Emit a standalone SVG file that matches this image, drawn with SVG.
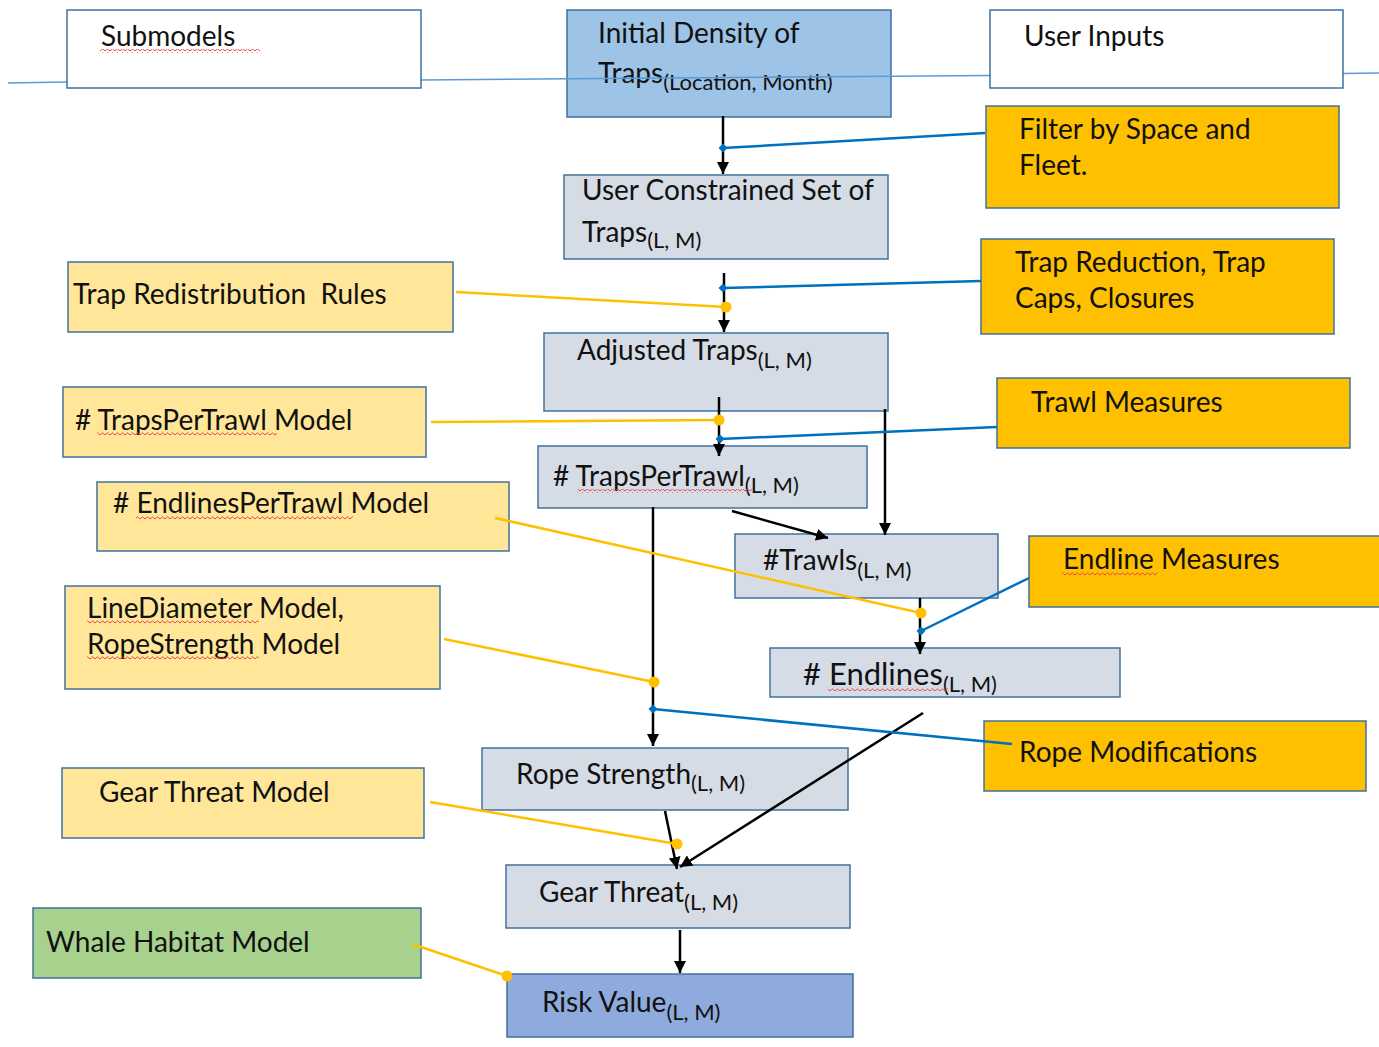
<svg xmlns="http://www.w3.org/2000/svg" width="1379" height="1047" viewBox="0 0 1379 1047">
<style>
.box{stroke:#41719C;stroke-width:1.5}
.white{fill:#FFFFFF}
.blue{fill:#9DC3E6}
.gray{fill:#D6DCE5}
.orange{fill:#FFC000}
.lyel{fill:#FFE699}
.green{fill:#A9D18E}
.risk{fill:#8FAADC}
text{font-family:Lato,"Noto Sans","Liberation Sans",sans-serif;font-size:28px;fill:#111111}
.sub{font-size:22px}
.big{font-size:31px}
.sq{fill:url(#squig)}
.arr{stroke:#000;stroke-width:2.5;fill:none;marker-end:url(#ah)}
.bl{stroke:#0070C0;stroke-width:2.5;fill:none}
.yl{stroke:#FFC000;stroke-width:2.5;fill:none}
.bdot{fill:#0070C0}
.ydot{fill:#FFC000}
.div{stroke:#5B9BD5;stroke-width:1.5;fill:none}
</style>
<defs>
<marker id="ah" markerUnits="userSpaceOnUse" markerWidth="12" markerHeight="12" viewBox="0 0 10 10" refX="10" refY="5" orient="auto">
<path d="M0,0 L10,5 L0,10 z" fill="#000"/>
</marker>
<pattern id="squig" patternUnits="userSpaceOnUse" x="0" y="0" width="5" height="4">
<path d="M0,3 L2.5,0.8 L5,3" stroke="#E84A4A" stroke-width="1" fill="none"/>
</pattern>
</defs>
<rect width="1379" height="1047" fill="#FFFFFF"/>

<g id="node-initial-density">
<rect class="box blue" x="567" y="10" width="324" height="107"/>
<text x="598" y="43">Initial Density of</text>
<text x="598" y="83">Traps<tspan class="sub" dy="7">(Location, Month)</tspan></text>
</g>

<g id="divider">
<path class="div" d="M8,83 L67,82"/>
<path class="div" d="M421,80 L990,75.5"/>
<path class="div" d="M1343,73.5 L1379,73"/>
</g>

<g id="node-submodels">
<rect class="box white" x="67" y="10" width="354" height="78"/>
<text x="101" y="46">Submodels</text>
<rect class="sq" x="100" y="49" width="160" height="4"/>
</g>

<g id="node-user-inputs">
<rect class="box white" x="990" y="10" width="353" height="78"/>
<text x="1024" y="46">User Inputs</text>
</g>

<g id="node-filter">
<rect class="box orange" x="986" y="106" width="353" height="102"/>
<text x="1019" y="139">Filter by Space and</text>
<text x="1019" y="175">Fleet.</text>
</g>

<g id="node-user-constrained">
<rect class="box gray" x="564" y="175" width="324" height="84"/>
<text x="582" y="200">User Constrained Set of</text>
<text x="582" y="242">Traps<tspan class="sub" dy="6">(L, M)</tspan></text>
</g>

<g id="node-trap-redistribution">
<rect class="box lyel" x="68" y="262" width="385" height="70"/>
<text x="73" y="304" xml:space="preserve">Trap Redistribution  Rules</text>
</g>

<g id="node-trap-reduction">
<rect class="box orange" x="981" y="239" width="353" height="95"/>
<text x="1015" y="272">Trap Reduction, Trap</text>
<text x="1015" y="308">Caps, Closures</text>
</g>

<g id="node-adjusted-traps">
<rect class="box gray" x="544" y="333" width="344" height="78"/>
<text x="577" y="360">Adjusted Traps<tspan class="sub" dy="8">(L, M)</tspan></text>
</g>

<g id="node-trapspertrawl-model">
<rect class="box lyel" x="63" y="387" width="363" height="70"/>
<text x="75" y="430"># TrapsPerTrawl Model</text>
<rect class="sq" x="97" y="432" width="180" height="4"/>
</g>

<g id="node-trawl-measures">
<rect class="box orange" x="997" y="378" width="353" height="70"/>
<text x="1031" y="412">Trawl Measures</text>
</g>

<g id="node-trapspertrawl">
<rect class="box gray" x="538" y="446" width="329" height="62"/>
<text x="553" y="486"># TrapsPerTrawl<tspan class="sub" dy="7">(L, M)</tspan></text>
<rect class="sq" x="577" y="489" width="176" height="4"/>
</g>

<g id="node-endlinespertrawl-model">
<rect class="box lyel" x="97" y="482" width="412" height="69"/>
<text x="113" y="513"># EndlinesPerTrawl Model</text>
<rect class="sq" x="136" y="516" width="217" height="4"/>
</g>

<g id="node-trawls">
<rect class="box gray" x="735" y="534" width="263" height="64"/>
<text x="763" y="570">#Trawls<tspan class="sub" dy="8">(L, M)</tspan></text>
</g>

<g id="node-endline-measures">
<rect class="box orange" x="1029" y="536" width="360" height="71"/>
<text x="1063" y="569">Endline Measures</text>
<rect class="sq" x="1062" y="572" width="96" height="4"/>
</g>

<g id="node-linediameter-model">
<rect class="box lyel" x="65" y="586" width="375" height="103"/>
<text x="87" y="618">LineDiameter Model,</text>
<rect class="sq" x="87" y="620" width="172" height="4"/>
<text x="87" y="654">RopeStrength Model</text>
<rect class="sq" x="87" y="656" width="172" height="4"/>
</g>

<g id="node-endlines">
<rect class="box gray" x="770" y="648" width="350" height="49"/>
<text class="big" x="803" y="685"># Endlines<tspan class="sub" dy="7">(L, M)</tspan></text>
<rect class="sq" x="828" y="687" width="120" height="4"/>
</g>

<g id="node-rope-modifications">
<rect class="box orange" x="984" y="721" width="382" height="70"/>
<text x="1019" y="762">Rope Modifications</text>
</g>

<g id="node-rope-strength">
<rect class="box gray" x="482" y="748" width="366" height="62"/>
<text x="516" y="784">Rope Strength<tspan class="sub" dy="7">(L, M)</tspan></text>
</g>

<g id="node-gear-threat-model">
<rect class="box lyel" x="62" y="768" width="362" height="70"/>
<text x="99" y="802">Gear Threat Model</text>
</g>

<g id="node-gear-threat">
<rect class="box gray" x="506" y="865" width="344" height="63"/>
<text x="539" y="902">Gear Threat<tspan class="sub" dy="8">(L, M)</tspan></text>
</g>

<g id="node-whale-habitat">
<rect class="box green" x="33" y="908" width="388" height="70"/>
<text x="46" y="952">Whale Habitat Model</text>
</g>

<g id="node-risk-value">
<rect class="box risk" x="507" y="974" width="346" height="63"/>
<text x="542" y="1012">Risk Value<tspan class="sub" dy="8">(L, M)</tspan></text>
</g>

<g id="connectors">
<path class="arr" d="M723,116 L723,174"/>
<path class="arr" d="M724,273 L724,332"/>
<path class="arr" d="M719,397 L719,456"/>
<path class="arr" d="M885,409 L885,535"/>
<path class="arr" d="M732,511 L828,538"/>
<path class="arr" d="M920,598 L920,654"/>
<path class="arr" d="M653,507 L653,746"/>
<path class="arr" d="M923,713 L680,867"/>
<path class="arr" d="M665,811 L677,869"/>
<path class="arr" d="M680,930 L680,973"/>

<path class="bl" d="M985,133 L723,148"/>
<path class="bdot" d="M723,143.5 L727.5,148 L723,152.5 L718.5,148 z"/>
<path class="bl" d="M981,281 L723,288"/>
<path class="bdot" d="M723,283.5 L727.5,288 L723,292.5 L718.5,288 z"/>
<path class="bl" d="M997,427 L720,439"/>
<path class="bdot" d="M720,434.5 L724.5,439 L720,443.5 L715.5,439 z"/>
<path class="bl" d="M1029,578 L921,631"/>
<path class="bdot" d="M921,626.5 L925.5,631 L921,635.5 L916.5,631 z"/>
<path class="bl" d="M1012,744 L653,709"/>
<path class="bdot" d="M653,704.5 L657.5,709 L653,713.5 L648.5,709 z"/>

<path class="yl" d="M456,292 L726,307"/>
<circle class="ydot" cx="726" cy="307" r="5.5"/>
<path class="yl" d="M431,422 L719,420"/>
<circle class="ydot" cx="719" cy="420" r="5.5"/>
<path class="yl" d="M495,518 L921,613"/>
<circle class="ydot" cx="921" cy="613" r="5.5"/>
<path class="yl" d="M444,639 L654,682"/>
<circle class="ydot" cx="654" cy="682" r="5.5"/>
<path class="yl" d="M430,802 L677,844"/>
<circle class="ydot" cx="677" cy="844" r="5.5"/>
<path class="yl" d="M412,944 L507,976"/>
<circle class="ydot" cx="507" cy="976" r="5.5"/>
</g>
</svg>
